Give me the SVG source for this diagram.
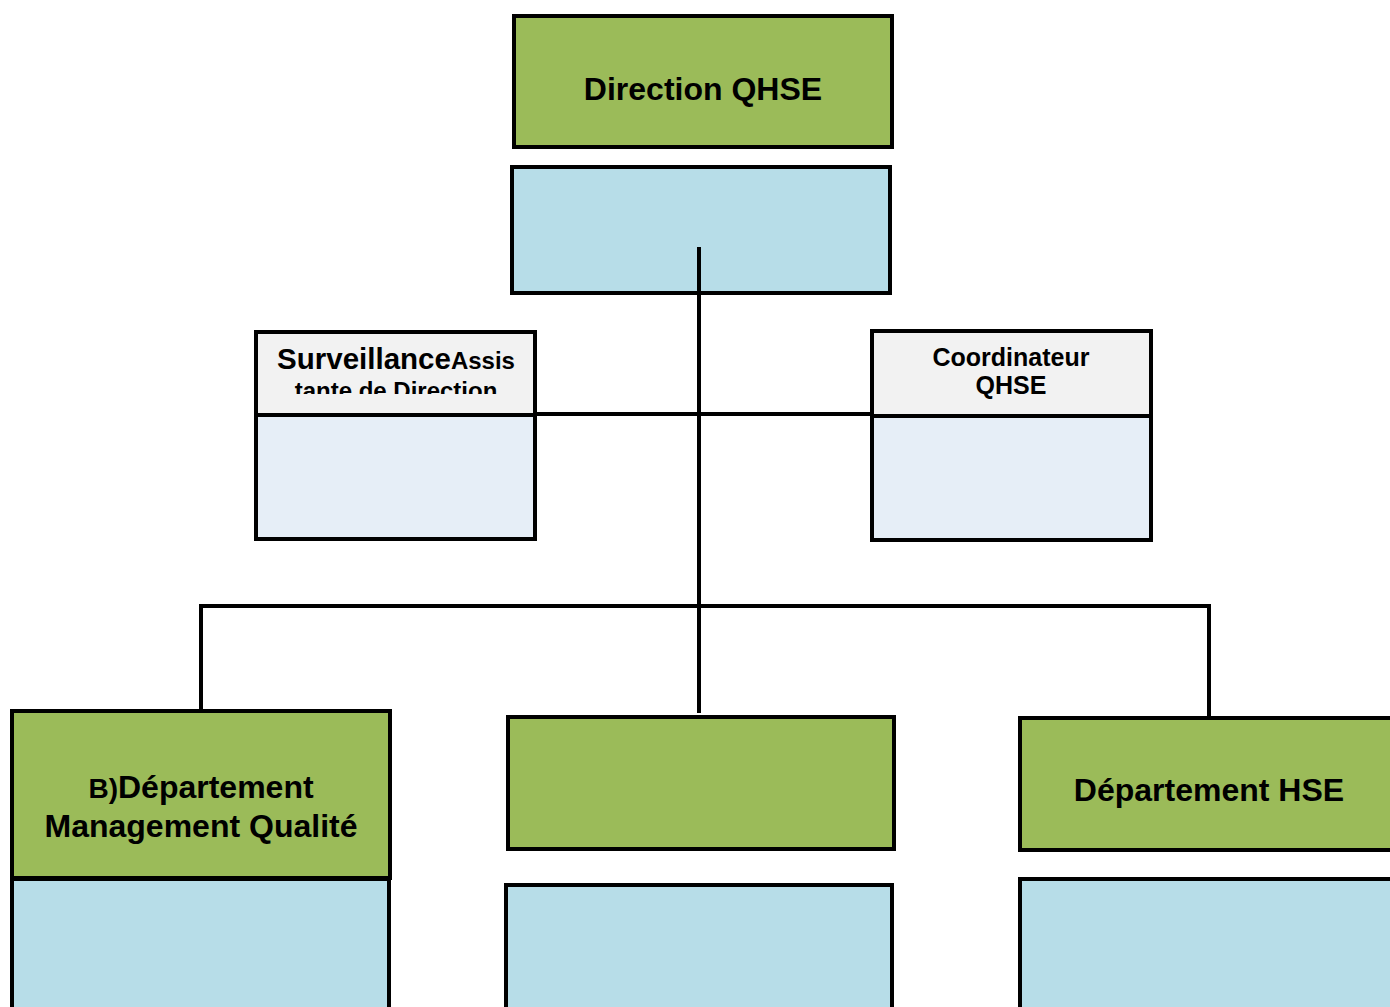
<svg xmlns="http://www.w3.org/2000/svg" width="1390" height="1007" viewBox="0 0 1390 1007">
  <style>
    .box { stroke: #000; stroke-width: 4; }
    .green { fill: #9BBB59; }
    .blue { fill: #B7DDE8; }
    .pale { fill: #E6EEF7; }
    .grey { fill: #F2F2F2; }
    .lbl { font-family: "Liberation Sans", Arial, sans-serif; font-weight: bold; fill: #000; text-anchor: middle; }
    .wire { stroke: #000; stroke-width: 4; fill: none; }
  </style>
  <defs>
    <clipPath id="clipSurv">
      <rect x="257" y="333" width="277" height="61"/>
    </clipPath>
  </defs>
  <rect width="1390" height="1007" fill="#fff"/>

  <g id="direction">
    <rect class="box green" x="514" y="16" width="378" height="131"/>
    <text class="lbl" x="703" y="100" font-size="32">Direction QHSE</text>
  </g>
  <g id="direction-detail">
    <rect class="box blue" x="512" y="167" width="378" height="126"/>
  </g>

  <g id="connectors">
    <line class="wire" x1="699" y1="247" x2="699" y2="713"/>
    <line class="wire" x1="536" y1="414" x2="871" y2="414"/>
    <polyline class="wire" points="201,710 201,606 1209,606 1209,717"/>
  </g>

  <g id="assistante">
    <rect class="box grey" x="256" y="332" width="279" height="83"/>
    <rect class="box pale" x="256" y="415" width="279" height="124"/>
    <g clip-path="url(#clipSurv)">
      <text class="lbl" x="396" y="369"><tspan font-size="29.5">Surveillance</tspan><tspan font-size="24">Assis</tspan></text>
      <text class="lbl" x="396" y="399" font-size="24">tante de Direction</text>
    </g>
  </g>

  <g id="coordinateur">
    <rect class="box grey" x="872" y="331" width="279" height="85"/>
    <rect class="box pale" x="872" y="416" width="279" height="124"/>
    <text class="lbl" x="1011" y="366" font-size="25">Coordinateur</text>
    <text class="lbl" x="1011" y="394" font-size="25">QHSE</text>
  </g>

  <g id="dept-qualite">
    <rect class="box green" x="12" y="711" width="378" height="167"/>
    <rect class="box blue" x="12" y="879" width="377" height="140"/>
    <text class="lbl" x="201" y="798"><tspan font-size="28">B)</tspan><tspan font-size="32">Département</tspan></text>
    <text class="lbl" x="201" y="837" font-size="32">Management Qualité</text>
  </g>

  <g id="dept-centre">
    <rect class="box green" x="508" y="717" width="386" height="132"/>
    <rect class="box blue" x="506" y="885" width="386" height="140"/>
  </g>

  <g id="dept-hse">
    <rect class="box green" x="1020" y="718" width="390" height="132"/>
    <rect class="box blue" x="1020" y="879" width="390" height="140"/>
    <text class="lbl" x="1209" y="801" font-size="32">Département HSE</text>
  </g>
</svg>
